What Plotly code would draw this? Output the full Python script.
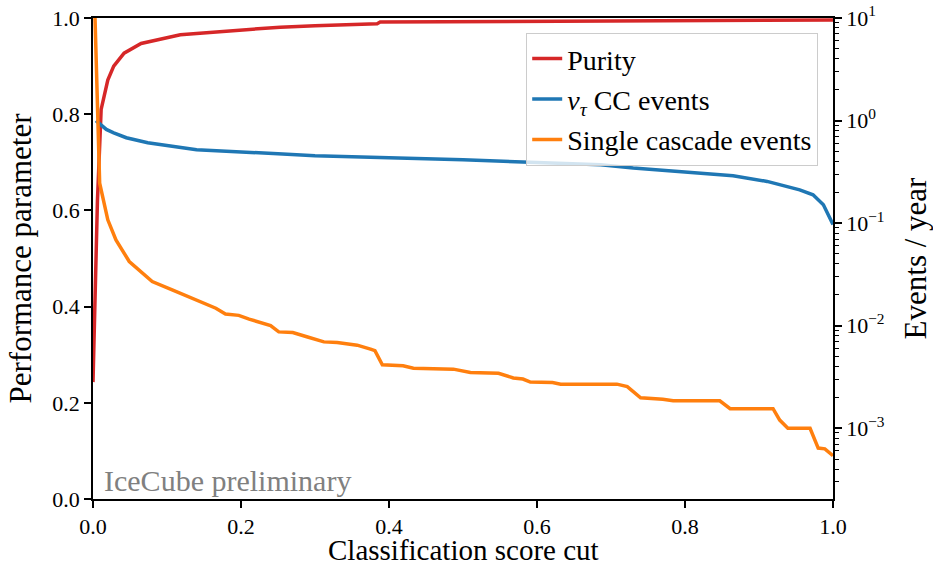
import plotly.graph_objects as go

# Classification score cut values and the curves read along it
purity_x = [0.0, 0.006, 0.011, 0.02, 0.028, 0.042, 0.065, 0.096, 0.118, 0.14, 0.186,
            0.253, 0.3, 0.384, 0.388, 0.523, 0.6, 0.8, 0.9, 0.97, 1.0]
purity = [0.243, 0.62, 0.81, 0.871, 0.90, 0.927, 0.947, 0.958, 0.965, 0.968, 0.973,
          0.981, 0.984, 0.988, 0.9915, 0.9925, 0.993, 0.995, 0.996, 0.997, 0.996]

nutau_x = [0.004, 0.011, 0.018, 0.028, 0.045, 0.074, 0.14, 0.25, 0.3, 0.4, 0.5, 0.6,
           0.686, 0.73, 0.776, 0.82, 0.865, 0.911, 0.933, 0.955, 0.973, 0.987, 1.0]
nutau_rate = [1.0, 0.91, 0.82, 0.76, 0.68, 0.607, 0.519, 0.474, 0.454, 0.434, 0.415,
              0.389, 0.371, 0.344, 0.326, 0.308, 0.289, 0.255, 0.231, 0.211, 0.189,
              0.151, 0.097]

cascade_x = [0.0, 0.009, 0.02, 0.031, 0.049, 0.08, 0.107, 0.134, 0.152, 0.166, 0.179,
             0.197, 0.211, 0.24, 0.251, 0.27, 0.29, 0.312, 0.33, 0.344, 0.357, 0.375,
             0.381, 0.391, 0.419, 0.433, 0.487, 0.51, 0.548, 0.568, 0.581, 0.591, 0.621,
             0.632, 0.708, 0.722, 0.74, 0.77, 0.784, 0.847, 0.861, 0.919, 0.928, 0.939,
             0.969, 0.98, 0.989, 1.0]
cascade_rate = [50.0, 0.245, 0.1076, 0.0687, 0.0422, 0.0269, 0.0223, 0.0185, 0.0166,
                0.0148, 0.0130, 0.0126, 0.0116, 0.0100, 0.0087, 0.00857, 0.00776,
                0.00695, 0.00684, 0.00661, 0.00646, 0.00590, 0.00571, 0.00415, 0.00406,
                0.00385, 0.00377, 0.00349, 0.00344, 0.00309, 0.00302, 0.00282, 0.00279,
                0.00269, 0.00269, 0.00255, 0.00198, 0.00192, 0.00185, 0.00185, 0.00155,
                0.00155, 0.00120, 0.00100, 0.00100, 0.00064, 0.00063, 0.00054]

left_ticks = [0.0, 0.2, 0.4, 0.6, 0.8, 1.0]
x_ticks = [0.0, 0.2, 0.4, 0.6, 0.8, 1.0]
right_ticks = [1e-3, 1e-2, 1e-1, 1e0, 1e1]
right_ticklabels = ["10<sup>\u22123</sup>", "10<sup>\u22122</sup>", "10<sup>\u22121</sup>",
                    "10<sup>0</sup>", "10<sup>1</sup>"]

FONT = "Liberation Serif"
RED, BLUE, ORANGE = "#d62728", "#1f77b4", "#ff7f0e"
LW = 3.5
TITLE_SIZE = 31

minor_log = [m * 10.0 ** e for e in range(-4, 1) for m in range(2, 10)]

fig = go.Figure()
fig.add_trace(go.Scatter(x=purity_x, y=purity, mode="lines", name="Purity",
                         line=dict(color=RED, width=LW), legendgroup="a"))
fig.add_trace(go.Scatter(x=nutau_x, y=nutau_rate, mode="lines", yaxis="y2",
                         name="<i>\u03bd</i><sub><i>\u03c4</i></sub> CC events",
                         line=dict(color=BLUE, width=LW), legendgroup="b"))
fig.add_trace(go.Scatter(x=cascade_x, y=cascade_rate, mode="lines", yaxis="y2",
                         name="Single cascade events",
                         line=dict(color=ORANGE, width=LW), legendgroup="c"))

axis_common = dict(showgrid=False, zeroline=False, showline=True, linecolor="black",
                   linewidth=1.5, ticks="outside", ticklen=7, tickwidth=1.5,
                   tickcolor="black", automargin=False,
                   tickfont=dict(family=FONT, size=22, color="black"))

fig.update_layout(
    width=933, height=569,
    margin=dict(l=93, r=100, t=18, b=70),
    paper_bgcolor="white", plot_bgcolor="white",
    font=dict(family=FONT, color="black"),
    xaxis=dict(range=[0, 1], tickvals=x_ticks, ticktext=[f"{v:.1f}" for v in x_ticks],
               mirror=True, **axis_common),
    yaxis=dict(range=[0, 1], tickvals=left_ticks, ticktext=[f"{v:.1f}" for v in left_ticks],
               title=dict(text="Performance parameter", font=dict(size=TITLE_SIZE),
                          standoff=11),
               **axis_common),
    yaxis2=dict(type="log", range=[-3.69, 1], overlaying="y", side="right",
                tickvals=right_ticks, ticktext=right_ticklabels,
                minor=dict(tickvals=minor_log, ticks="outside", ticklen=4,
                           tickwidth=1.2, tickcolor="black"),
                title=dict(text="Events / year", font=dict(size=TITLE_SIZE), standoff=22),
                **axis_common),
    legend=dict(x=0.98, y=0.969, xanchor="right", yanchor="top",
                bgcolor="rgba(255,255,255,0.8)", bordercolor="#cccccc", borderwidth=1,
                font=dict(family=FONT, size=28, color="black"), tracegroupgap=1),
    annotations=[
        dict(text="IceCube preliminary", xref="paper", yref="paper",
             x=0.012, y=0.0, xanchor="left", yanchor="bottom", showarrow=False,
             font=dict(family=FONT, size=30, color="#808080")),
        dict(text="Classification score cut", xref="paper", yref="paper",
             x=0.5, y=-0.1415, xanchor="center", yanchor="bottom", showarrow=False,
             borderpad=0, font=dict(family=FONT, size=29, color="black")),
    ],
)

fig.write_html("out.html")
